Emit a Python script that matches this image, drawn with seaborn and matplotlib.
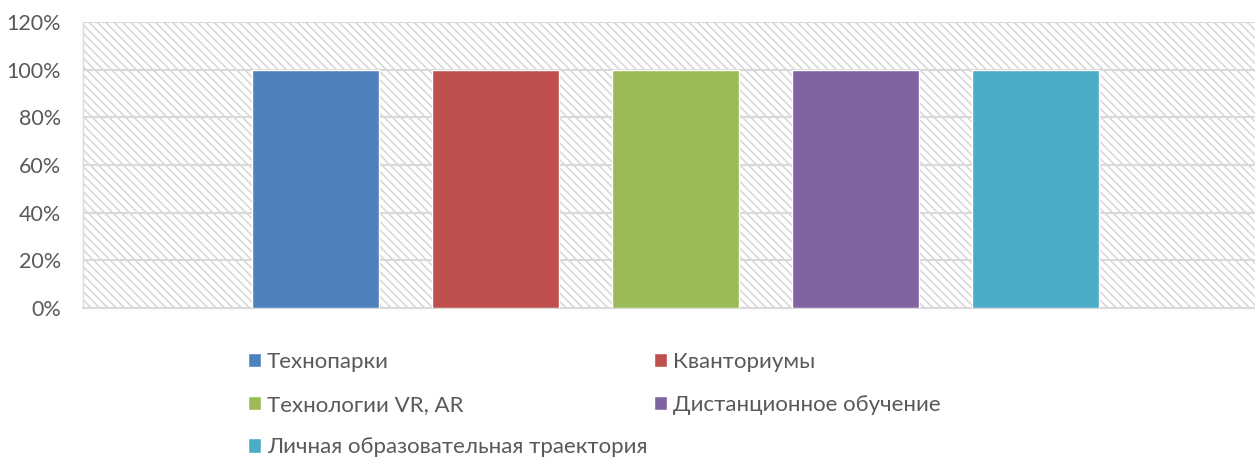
import matplotlib
matplotlib.use("Agg")
import matplotlib.pyplot as plt
import matplotlib.patches as mpatches
import matplotlib.ticker as mtick
import seaborn as sns
import pandas as pd

categories = ["Технопарки", "Кванториумы", "Технологии VR, AR",
              "Дистанционное обучение", "Личная образовательная траектория"]
values = [1.0, 1.0, 1.0, 1.0, 1.0]
colors = ["#4F81BD", "#C0504D", "#9BBB59", "#8064A2", "#4BACC6"]
y_ticks = [0, 0.2, 0.4, 0.6, 0.8, 1.0, 1.2]

df = pd.DataFrame({"cat": categories, "val": values})

sns.set_style("white")
plt.rcParams["font.family"] = ["Lato", "DejaVu Sans"]
plt.rcParams["hatch.color"] = "#d6d6d6"
plt.rcParams["hatch.linewidth"] = 1.1

fig = plt.figure(figsize=(12.55, 4.61), dpi=100)
ax = fig.add_axes([83 / 1255, 1 - 308 / 461, (1255 - 83) / 1255, 286 / 461])

# hatched plot area background
bg = mpatches.Rectangle((0, 0), 1, 1, transform=ax.transAxes, facecolor="white",
                        edgecolor="#d6d6d6", lw=0, hatch="\\\\\\\\", zorder=0)
ax.add_patch(bg)

sns.barplot(data=df, x="cat", y="val", hue="cat", palette=colors,
            width=0.705, legend=True, ax=ax, zorder=3, saturation=1)

ax.set_ylim(0, 1.2)
ax.set_xlim(-1.294, 5.22)
ax.set_yticks(y_ticks)
ax.yaxis.set_major_formatter(mtick.PercentFormatter(1.0, decimals=0))
ax.grid(axis="y", color="#d9d9d9", lw=1.5, zorder=1)
ax.set_axisbelow(False)
for gl in ax.get_ygridlines():
    gl.set_zorder(1)
ax.set_xticks([])
ax.set_xlabel("")
ax.set_ylabel("")
ax.tick_params(axis="y", length=0, pad=16, labelsize=15.5, labelcolor="#595959")
for s in ["top", "right"]:
    ax.spines[s].set_visible(False)
ax.spines["left"].set_color("#d9d9d9")
ax.spines["left"].set_linewidth(1)
ax.spines["bottom"].set_color("#d9d9d9")
ax.spines["bottom"].set_linewidth(1.5)

# legend, row-major order in 2 columns
handles, labels = ax.get_legend_handles_labels()
ax.get_legend().remove()
order = [0, 2, 4, 1, 3]
fig.legend([handles[i] for i in order], [labels[i] for i in order],
           loc="upper left", bbox_to_anchor=(248 / 1255, 1 - 352 / 461),
           ncol=2, frameon=False, fontsize=16, labelcolor="#595959",
           handlelength=0.6, handleheight=0.6, handletextpad=0.25,
           labelspacing=1.02, columnspacing=0.3, borderpad=0, borderaxespad=0)

fig.savefig("out.png", dpi=100)
